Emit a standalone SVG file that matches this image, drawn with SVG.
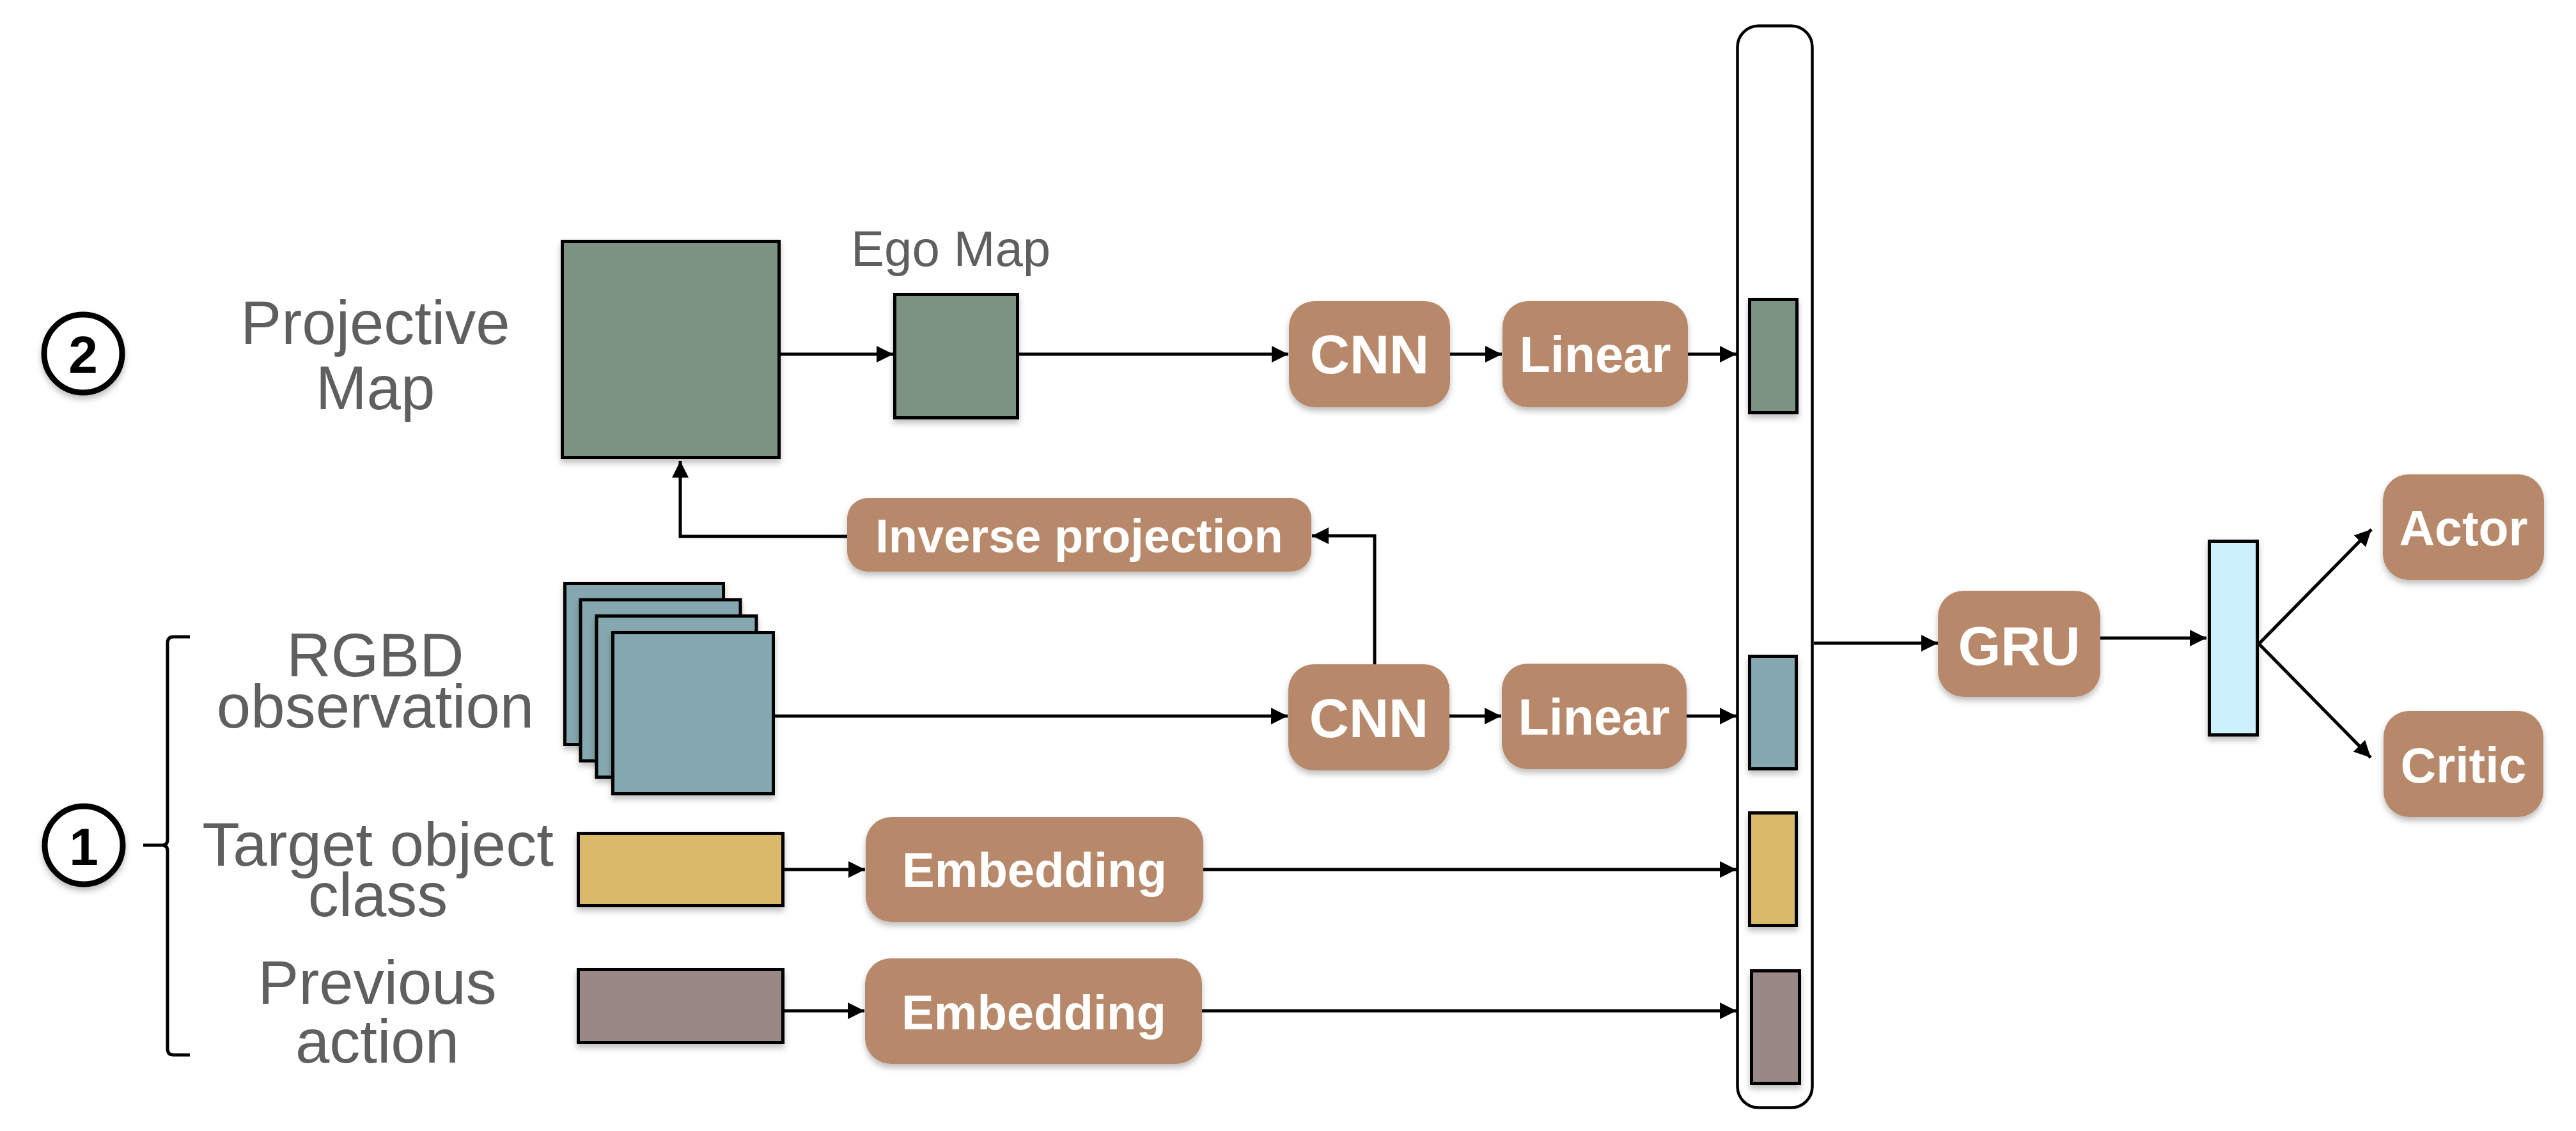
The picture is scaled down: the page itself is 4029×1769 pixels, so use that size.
<svg xmlns="http://www.w3.org/2000/svg" width="4029" height="1769" viewBox="0 0 4029 1769">
<defs>
<style>
.lbl{font-family:"Liberation Sans",Arial,sans-serif;fill:#5f5f5f;text-anchor:middle}
.btxt{font-family:"Liberation Sans",Arial,sans-serif;font-weight:bold;fill:#ffffff;text-anchor:middle}
.box{fill:#b7896a;filter:url(#sh)}
.data{stroke:#000;stroke-width:5;filter:url(#sh)}
.conn{fill:none;stroke:#000;stroke-width:5;marker-end:url(#ah)}
.num{font-family:"Liberation Sans",Arial,sans-serif;font-weight:bold;fill:#000;text-anchor:middle}
</style>
<filter id="sh" x="-20%" y="-20%" width="140%" height="150%">
<feDropShadow dx="0" dy="6" stdDeviation="5" flood-color="#000" flood-opacity="0.25"/>
</filter>
<marker id="ah" markerUnits="userSpaceOnUse" markerWidth="26" markerHeight="26" viewBox="0 0 24 24" refX="24" refY="12" orient="auto">
<path d="M0,0 L24,12 L0,24 z" fill="#000"/>
</marker>
</defs>
<rect width="4029" height="1769" fill="#ffffff"/>

<g id="badge2">
<circle cx="130" cy="553" r="61" fill="#fff" stroke="#000" stroke-width="9" filter="url(#sh)"/>
<text class="num" x="130" y="583" font-size="82">2</text>
</g>
<g id="badge1">
<circle cx="131" cy="1322" r="61" fill="#fff" stroke="#000" stroke-width="9" filter="url(#sh)"/>
<text class="num" x="131" y="1353" font-size="82">1</text>
</g>
<g id="bracket">
<path d="M297,996 H271 Q262,996 262,1006 V1313 Q262,1322 254,1322 Q262,1322 262,1331 V1640 Q262,1650 271,1650 H297 M224,1322 H256" fill="none" stroke="#000" stroke-width="5"/>
</g>

<g id="label-projective">
<text class="lbl" x="587" y="538" font-size="96">Projective</text>
<text class="lbl" x="587" y="640" font-size="96">Map</text>
</g>
<g id="label-rgbd">
<text class="lbl" x="587" y="1058" font-size="96">RGBD</text>
<text class="lbl" x="587" y="1138" font-size="96">observation</text>
</g>
<g id="label-target">
<text class="lbl" x="591" y="1354" font-size="96">Target object</text>
<text class="lbl" x="591" y="1433" font-size="96">class</text>
</g>
<g id="label-previous">
<text class="lbl" x="590" y="1570" font-size="96">Previous</text>
<text class="lbl" x="590" y="1662" font-size="96">action</text>
</g>

<g id="projective-map">
<rect class="data" x="879.5" y="377.5" width="339" height="338" fill="#7d9382"/>
</g>
<g id="ego-map">
<text class="lbl" x="1331" y="416" font-size="78" style="text-anchor:start">Ego Map</text>
<rect class="data" x="1399.5" y="460.5" width="192" height="193" fill="#7d9382"/>
</g>
<g id="rgbd-stack">
<rect class="data" x="883.5" y="912.5" width="248" height="252" fill="#85a7af"/>
<rect class="data" x="908" y="938" width="250" height="252" fill="#85a7af"/>
<rect class="data" x="933" y="963.5" width="250" height="252" fill="#85a7af"/>
<rect class="data" x="958.5" y="989.5" width="251" height="252" fill="#85a7af"/>
</g>
<g id="target-class">
<rect class="data" x="904.5" y="1303.5" width="320" height="113" fill="#dbb96b"/>
</g>
<g id="prev-action">
<rect class="data" x="904.5" y="1516.5" width="320" height="114" fill="#9a8887"/>
</g>

<g id="inverse-projection">
<rect class="box" x="1325" y="779" width="726" height="115" rx="32"/>
<text class="btxt" x="1688" y="864" font-size="74">Inverse projection</text>
</g>
<g id="cnn-map">
<rect class="box" x="2016" y="471" width="252" height="166" rx="40"/>
<text class="btxt" x="2142" y="584" font-size="86">CNN</text>
</g>
<g id="linear-map">
<rect class="box" x="2350" y="471" width="290" height="166" rx="40"/>
<text class="btxt" x="2495" y="582" font-size="79">Linear</text>
</g>
<g id="cnn-rgbd">
<rect class="box" x="2015" y="1039" width="252" height="166" rx="40"/>
<text class="btxt" x="2141" y="1153" font-size="86">CNN</text>
</g>
<g id="linear-rgbd">
<rect class="box" x="2349" y="1038" width="289" height="165" rx="40"/>
<text class="btxt" x="2493" y="1149" font-size="79">Linear</text>
</g>
<g id="embedding-target">
<rect class="box" x="1354" y="1278" width="528" height="164" rx="40"/>
<text class="btxt" x="1618" y="1387" font-size="76">Embedding</text>
</g>
<g id="embedding-action">
<rect class="box" x="1353" y="1499" width="527" height="165" rx="40"/>
<text class="btxt" x="1617" y="1610" font-size="76">Embedding</text>
</g>

<g id="concat">
<rect x="2717.5" y="40.5" width="117" height="1692" rx="33" fill="none" stroke="#000" stroke-width="4.5"/>
<rect class="data" x="2736.5" y="468.5" width="74" height="177" fill="#7d9382"/>
<rect class="data" x="2736.5" y="1026.5" width="73" height="176" fill="#85a7af"/>
<rect class="data" x="2736.5" y="1271.5" width="73" height="176" fill="#dbb96b"/>
<rect class="data" x="2739.5" y="1518.5" width="75" height="176" fill="#9a8887"/>
</g>

<g id="gru">
<rect class="box" x="3031" y="924" width="254" height="166" rx="40"/>
<text class="btxt" x="3158" y="1040" font-size="86">GRU</text>
</g>
<g id="state">
<rect class="data" x="3455.5" y="846.5" width="75" height="303" fill="#cdf1fc"/>
</g>
<g id="actor">
<rect class="box" x="3727" y="742" width="252" height="165" rx="40"/>
<text class="btxt" x="3853" y="853" font-size="77">Actor</text>
</g>
<g id="critic">
<rect class="box" x="3728" y="1112" width="250" height="166" rx="40"/>
<text class="btxt" x="3853" y="1224" font-size="77">Critic</text>
</g>

<g id="connectors">
<path class="conn" d="M1221,554 H1397"/>
<path class="conn" d="M1594,554 H2015"/>
<path class="conn" d="M2268,554 H2349"/>
<path class="conn" d="M2640,554 H2716"/>
<path class="conn" d="M1212,1120 H2014"/>
<path class="conn" d="M2267,1120 H2348"/>
<path class="conn" d="M2638,1120 H2716"/>
<path class="conn" d="M1227,1360 H1353"/>
<path class="conn" d="M1882,1360 H2716"/>
<path class="conn" d="M1227,1581 H1352"/>
<path class="conn" d="M1880,1581 H2716"/>
<path class="conn" d="M2150,1039 V838 H2052"/>
<path class="conn" d="M1325,839 H1064 V721"/>
<path class="conn" d="M2837,1006 H3031"/>
<path class="conn" d="M3285,998 H3451"/>
<path class="conn" d="M3533,1007 L3709,828"/>
<path class="conn" d="M3533,1007 L3708,1185"/>
</g>
</svg>
